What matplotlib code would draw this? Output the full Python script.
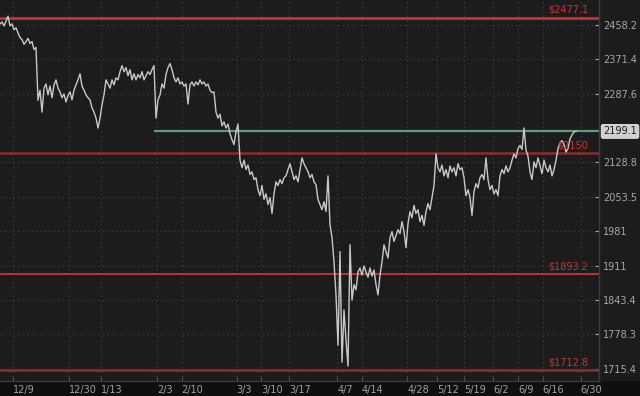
import numpy as np
import matplotlib
matplotlib.use("Agg")
import matplotlib.pyplot as plt
from matplotlib.patches import Rectangle

# ---- data -------------------------------------------------------------
close = [2461, 2466, 2456, 2468, 2481, 2456, 2461, 2446, 2451, 2438,
         2426, 2421, 2409, 2416, 2424, 2411, 2416, 2396, 2401, 2272,
         2296, 2244, 2301, 2311, 2285, 2306, 2278, 2309, 2321, 2301,
         2292, 2278, 2287, 2268, 2283, 2292, 2273, 2296, 2309, 2321,
         2336, 2306, 2296, 2285, 2278, 2273, 2254, 2244, 2230, 2207,
         2230, 2261, 2285, 2321, 2311, 2301, 2321, 2309, 2326, 2321,
         2341, 2356, 2341, 2351, 2331, 2346, 2321, 2336, 2321, 2334,
         2326, 2341, 2321, 2331, 2341, 2334, 2346, 2356, 2230, 2273,
         2285, 2311, 2301, 2334, 2351, 2361, 2346, 2326, 2316, 2326,
         2311, 2316, 2306, 2311, 2263, 2309, 2316, 2306, 2316, 2309,
         2321, 2311, 2316, 2306, 2311, 2296, 2290, 2292, 2244, 2230,
         2239, 2212, 2221, 2207, 2216, 2194, 2180, 2169, 2198, 2216,
         2134, 2117, 2134, 2113, 2123, 2102, 2108, 2091, 2095, 2069,
         2056, 2078, 2048, 2060, 2037, 2052, 2018, 2060, 2086, 2078,
         2091, 2082, 2095, 2099, 2113, 2126, 2108, 2091, 2099, 2086,
         2113, 2139, 2126, 2117, 2108, 2095, 2102, 2086, 2080, 2048,
         2037, 2026, 2043, 2022, 2099, 1995, 1968, 1918, 1853, 1758,
         1939, 1727, 1824, 1768, 1720, 1953, 1843, 1873, 1863, 1898,
         1906, 1892, 1910, 1898, 1888, 1906, 1890, 1902, 1873, 1853,
         1892, 1918, 1953, 1939, 1926, 1968, 1980, 1960, 1972, 1984,
         1976, 2001, 1980, 1947, 1997, 2022, 2009, 2035, 2018, 2026,
         2001, 2014, 1993, 2022, 2039, 2026, 2052, 2078, 2148, 2117,
         2108, 2123, 2099, 2113, 2095, 2121, 2108, 2117, 2099, 2126,
         2113, 2117, 2095, 2056, 2069, 2052, 2014, 2065, 2082, 2073,
         2095, 2102, 2091, 2139, 2091, 2069, 2078, 2060, 2069, 2056,
         2099, 2113, 2104, 2121, 2108, 2117, 2134, 2148, 2139, 2160,
         2167, 2158, 2207, 2156, 2143, 2108, 2091, 2130, 2117, 2139,
         2121, 2104, 2134, 2117, 2108, 2123, 2099, 2113, 2134, 2160,
         2173, 2178, 2169, 2152, 2160, 2182, 2191, 2198, 2199.1]

date_labels = ["12/9", "12/30", "1/13", "2/3", "2/10", "3/3", "3/10", "3/17",
               "4/7", "4/14", "4/28", "5/12", "5/19", "6/2", "6/9", "6/16", "6/30"]
date_bar_index = [6.65, 34.65, 50.5, 78.65, 90.85, 118.35, 130.65, 144.65,
                  168.65, 180.85, 203.65, 218.35, 232.15, 246.65, 259.15, 271.35, 290.35]

price_ticks = [1715.4, 1778.3, 1843.4, 1911, 1981, 2053.5, 2128.8, 2287.6, 2371.4, 2458.2]
price_tick_labels = ["1715.4", "1778.3", "1843.4", "1911", "1981", "2053.5",
                     "2128.8", "2287.6", "2371.4", "2458.2"]

level_values = [2477.1, 2150, 1893.2, 1712.8]
level_labels = ["$2477.1", "$2150", "$1893.2", "$1712.8"]
resistance_value = 2199.1
resistance_start_bar = 77
last_price = 2199.1

# ---- figure -----------------------------------------------------------
BG = "#1c1c1c"
fig = plt.figure(figsize=(6.4, 3.96), dpi=100, facecolor=BG)
fig.patches.append(Rectangle((0, 0), 1, 15 / 396, transform=fig.transFigure,
                             facecolor="#0f0f0f", edgecolor="none", zorder=-5))
ax = fig.add_axes([0, 15 / 396, 599 / 640, 381 / 396])
ax.set_facecolor(BG)

x = np.arange(len(close))
ax.set_yscale("log")
ax.set_xlim(0, 299.5)
ax.set_ylim(1693.4, 2523.4)

# grid
ax.set_yticks(price_ticks)
ax.set_yticklabels(price_tick_labels)
ax.yaxis.set_minor_locator(matplotlib.ticker.NullLocator())
ax.set_xticks(date_bar_index)
ax.set_xticklabels(date_labels, ha="left")
ax.grid(True, color="#444444", linestyle=(0, (1, 3)), linewidth=0.8)
ax.set_axisbelow(True)

ax.yaxis.tick_right()
ax.tick_params(axis="y", colors="#a8a8a8", labelsize=7, direction="in",
               length=3, pad=3, labelcolor="#a8a8a8")
ax.tick_params(axis="x", colors="#555555", labelsize=7, direction="in",
               length=3, pad=3, labelcolor="#a0a0a0")
for s in ["top", "left"]:
    ax.spines[s].set_visible(False)
for s in ["right", "bottom"]:
    ax.spines[s].set_color("#3c3c3c")
    ax.spines[s].set_linewidth(1)

# levels
level_colors = ["#c83232", "#8c2c2c", "#cc3333", "#8c2c2c"]
level_widths = [2.0, 1.8, 1.3, 1.8]
for v, lab, c, w in zip(level_values, level_labels, level_colors, level_widths):
    ax.axhline(v, color=c, linewidth=w, zorder=2)
    ax.annotate(lab, xy=(588 / 599, v), xycoords=("axes fraction", "data"),
                xytext=(0, 2), textcoords="offset points",
                ha="right", va="bottom", color="#c83535", fontsize=7, zorder=5)

ax.hlines(resistance_value, resistance_start_bar, 299.5, color="#5f9a7a",
          linewidth=1.6, zorder=2)

# price line
ax.plot(x, close, color="#c8c8c8", linewidth=1.0, zorder=4)

# last price box
ax.annotate(f"{last_price:.1f}", xy=(1.0, last_price), xycoords=("axes fraction", "data"),
            xytext=(3, 0), textcoords="offset points", ha="left", va="center",
            fontsize=7, color="#1a1a1a", annotation_clip=False,
            bbox=dict(boxstyle="round,pad=0.2", fc="#d0d0d0", ec="#e8e8e8", lw=0.6))

fig.savefig("out.png", dpi=100, facecolor=BG)
